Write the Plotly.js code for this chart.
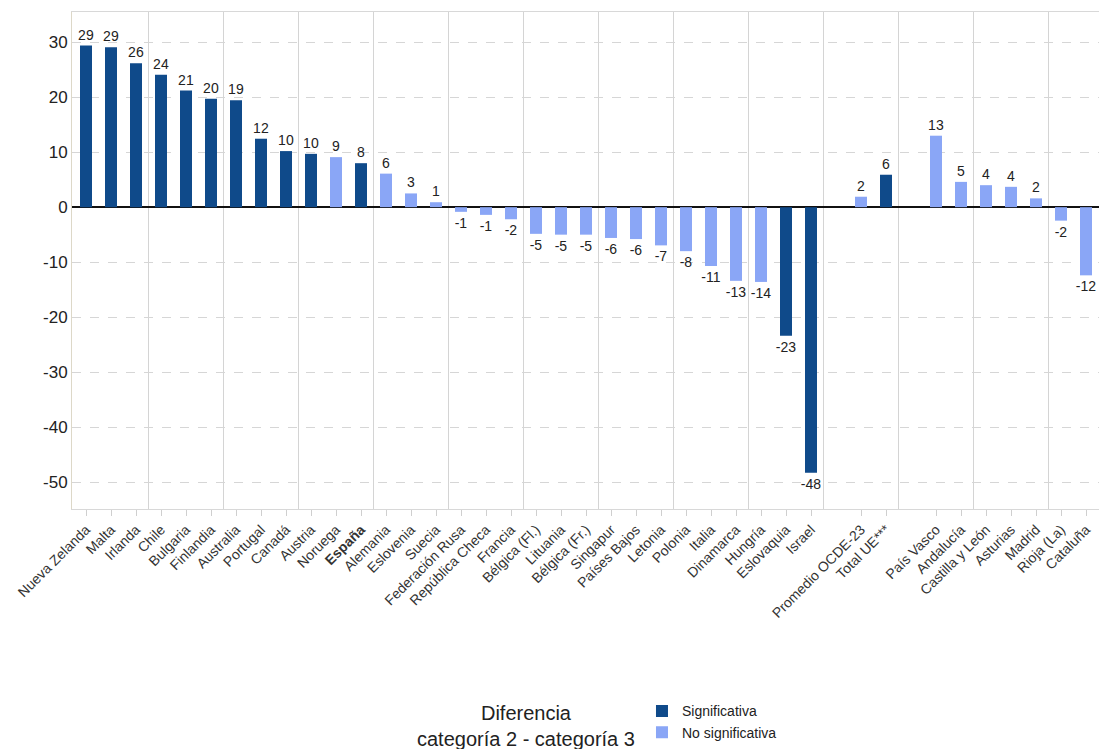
<!DOCTYPE html>
<html>
<head>
<meta charset="utf-8">
<script src="https://cdn.plot.ly/plotly-3.0.1.min.js"></script>
<style>html,body{margin:0;padding:0;background:#fff;}#chart{width:1099px;height:749px;}</style>
</head>
<body>
<div id="chart"></div>
<script>
const categories = ["Nueva Zelanda","Malta","Irlanda","Chile","Bulgaria","Finlandia","Australia","Portugal","Canadá","Austria","Noruega","España","Alemania","Eslovenia","Suecia","Federación Rusa","República Checa","Francia","Bélgica (Fl.)","Lituania","Bélgica (Fr.)","Singapur","Países Bajos","Letonia","Polonia","Italia","Dinamarca","Hungría","Eslovaquia","Israel","","Promedio OCDE-23","Total UE***","","País Vasco","Andalucía","Castilla y León","Asturias","Madrid","Rioja (La)","Cataluña"];
const values = [29.4,29.1,26.2,24.1,21.2,19.7,19.45,12.45,10.2,9.7,9.1,8.0,6.1,2.5,0.9,-0.85,-1.4,-2.2,-4.85,-5.0,-5.0,-5.6,-5.8,-6.95,-8.0,-10.7,-13.4,-13.6,-23.4,-48.3,null,1.9,5.9,null,13.0,4.6,4.0,3.7,1.6,-2.45,-12.4];
const significant = [1,1,1,1,1,1,1,1,1,1,0,1,0,0,0,0,0,0,0,0,0,0,0,0,0,0,0,0,1,1,null,0,1,null,0,0,0,0,0,0,0];
const boldCategories = ["España"];
const yTickValues = [30,20,10,0,-10,-20,-30,-40,-50];
const yTickLabels = ["30","20","10","0","-10","-20","-30","-40","-50"];
const legendTitle = ["Diferencia","categoría 2 - categoría 3"];
const seriesNames = ["Significativa","No significativa"];
const colors = ["#0f4a8a","#8aa6f6"];

const idx = categories.map((c,i)=>i);
function series(flag){
  const xs=[], ys=[];
  idx.forEach(i=>{ if(significant[i]===flag && values[i]!==null){ xs.push(i); ys.push(values[i]); } });
  return {xs, ys};
}
const traces = [1,0].map((flag,k)=>{
  const s = series(flag);
  return {
    type:'bar', name: seriesNames[k], x: s.xs, y: s.ys,
    marker:{color: colors[k], line:{width:0}},
    width:0.48,
    texttemplate:'%{y:.0f}', textposition:'outside', constraintext:'none',
    textfont:{family:'Liberation Sans, Arial, sans-serif', size:14, color:'#222'},
    cliponaxis:false, hoverinfo:'x+y'
  };
});

const tickvals = idx.filter(i=>categories[i]!=="");
const ticktext = tickvals.map(i=> boldCategories.includes(categories[i]) ? '<b>'+categories[i]+'</b>' : categories[i]);

const shapes = [];
for(let b=2.5; b<categories.length; b+=3){
  shapes.push({type:'line', xref:'x', yref:'paper', x0:b, x1:b, y0:0, y1:1, line:{color:'#d4d4d4', width:1}, layer:'below'});
}

const layout = {
  width:1099, height:749,
  margin:{l:72, r:0, t:12, b:233},
  paper_bgcolor:'#fff', plot_bgcolor:'#fff',
  font:{family:'Liberation Sans, Arial, sans-serif', color:'#222'},
  barmode:'overlay',
  showlegend:true,
  xaxis:{
    range:[-0.56, 40.52], tickvals:tickvals, ticktext:ticktext, tickangle:-45,
    tickfont:{size:14, color:'#333'}, showgrid:false, zeroline:false,
    ticks:'outside', ticklen:6, tickcolor:'#cfcfcf', showline:true, linecolor:'#d8d8d8', linewidth:1, mirror:true
  },
  yaxis:{
    range:[-54.9, 35.5], tickvals:yTickValues, ticktext:yTickLabels,
    tickfont:{size:17, color:'#222'}, showgrid:true, gridcolor:'#d6d6d6', griddash:'dash', gridwidth:1,
    zeroline:true, zerolinecolor:'#111', zerolinewidth:2, ticks:'', ticklen:0,
    showline:true, linecolor:'#ddd8c8', linewidth:1, mirror:true
  },
  shapes:shapes,
  legend:{
    orientation:'v', x:0.555, xanchor:'left', y:-0.375, yanchor:'top',
    font:{size:14, color:'#222'}, bgcolor:'rgba(0,0,0,0)', itemclick:false, traceorder:'normal'
  },
  annotations:[{
    xref:'paper', yref:'paper', x:0.442, y:-0.385, xanchor:'center', yanchor:'top',
    text: legendTitle.join('<br>'), align:'center', showarrow:false,
    font:{size:20, color:'#222'}
  }]
};

Plotly.newPlot('chart', traces, layout, {displayModeBar:false, staticPlot:true});
</script>
</body>
</html>
